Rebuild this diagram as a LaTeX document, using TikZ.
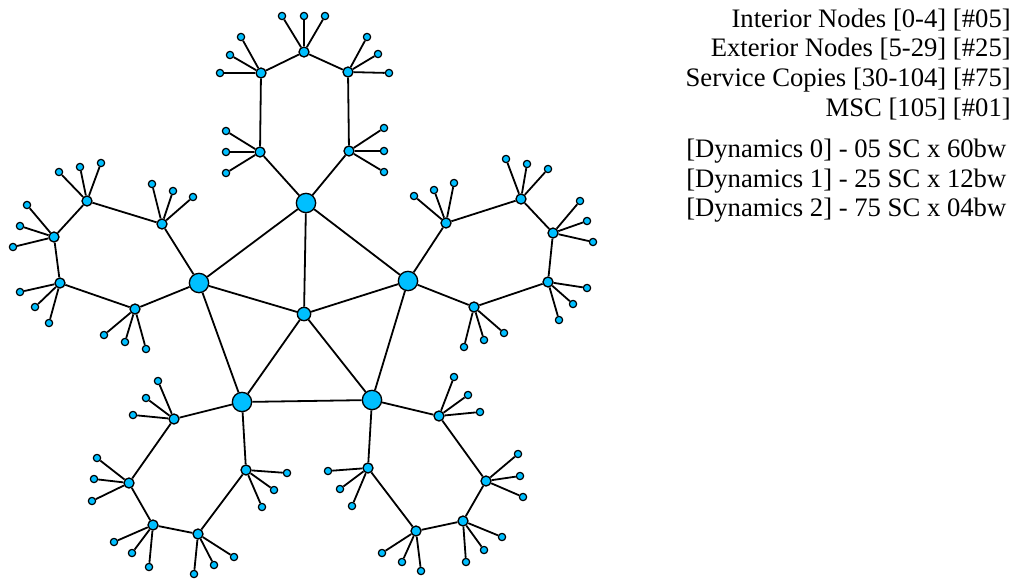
\documentclass[tikz,border=0pt]{standalone}
\usepackage{fontspec}
\setmainfont{Liberation Serif}
\usetikzlibrary{backgrounds}
\definecolor{nodeblue}{RGB}{0,191,255}
\tikzset{
  peer/.style={circle,draw=black,fill=nodeblue,line width=1pt,inner sep=0pt},
  intnode/.style={peer,minimum size=14.5pt},
  mscnode/.style={peer,minimum size=10pt},
  extnode/.style={peer,minimum size=7.5pt},
  svcnode/.style={peer,minimum size=5.5pt,line width=0.9pt},
  link/.style={line width=1.35pt},
  legend/.style={inner sep=0pt,font=\fontsize{20}{22.5}\selectfont}
}
\begin{document}
\begin{tikzpicture}[x=0.75pt,y=-0.75pt,line join=round,line cap=round]
\useasboundingbox (0,0) rectangle (1016,578);
% interior nodes and the MSC
\foreach \i/\x/\y in {0/306/203,1/408/281,2/372/400,3/242/402,4/199/283}
  \node[intnode] (int\i) at (\x,\y) {};
\node[mscnode] (msc) at (304,314) {};
% exterior nodes, five round each interior node
\foreach \i/\x/\y in {5/349/151,6/348/72,7/304/52,8/261/73,9/260/152,
    10/474/307,11/548/282,12/553/233,13/521/199,14/446/223,
    15/368/468,16/416/531,17/463/521,18/486/481,19/439/416,
    20/174/419,21/129/483,22/153/525,23/198/534,24/246/470,
    25/135/309,26/60/283,27/54/237,28/87/201,29/162/224}
  \node[extnode] (ext\i) at (\x,\y) {};
% service copies, three per exterior node
\foreach \j/\xa/\ya/\xb/\yb/\xc/\yc in {
    5/384/128/384/151/384/172, 6/367/37/378/54/389/73,
    7/282/16/304/16/325/16, 8/241/37/230/55/220/73,
    9/226/131/226/152/226/173, 10/504/333/484/340/464/347,
    11/587/288/573/304/559/320, 12/580/201/587/221/593/242,
    13/506/159/527/164/548/169, 14/414/196/434/190/454/183,
    15/328/471/340/489/352/506, 16/382/553/402/562/421/571,
    17/466/562/484/550/502/537, 18/523/497/520/476/518/454,
    19/480/412/468/395/454/377, 20/158/381/146/398/133/415,
    21/97/458/94/479/92/501, 22/114/542/132/553/149/567,
    23/194/574/214/565/234/557, 24/262/507/274/490/287/473,
    25/104/335/125/342/146/349, 26/20/292/35/307/49/323,
    27/27/205/20/226/13/247, 28/59/172/80/167/101/163,
    29/152/184/173/191/193/197}{
  \pgfmathtruncatemacro{\ia}{30+3*(\j-5)}
  \pgfmathtruncatemacro{\ib}{\ia+1}
  \pgfmathtruncatemacro{\ic}{\ia+2}
  \node[svcnode] (sc\ia) at (\xa,\ya) {};
  \node[svcnode] (sc\ib) at (\xb,\yb) {};
  \node[svcnode] (sc\ic) at (\xc,\yc) {};
}
% links
\begin{scope}[on background layer]
  \foreach \k in {0,...,4}{
    \pgfmathtruncatemacro{\nx}{mod(\k+1,5)}
    \pgfmathtruncatemacro{\ea}{5*\k+5}
    \pgfmathtruncatemacro{\eb}{5*\k+6}
    \pgfmathtruncatemacro{\ec}{5*\k+7}
    \pgfmathtruncatemacro{\ed}{5*\k+8}
    \pgfmathtruncatemacro{\ee}{5*\k+9}
    \draw[link] (msc) -- (int\k);
    \draw[link] (int\k) -- (int\nx);
    \draw[link] (int\k) -- (ext\ea) -- (ext\eb) -- (ext\ec) -- (ext\ed) -- (ext\ee) -- (int\k);
  }
  \foreach \j in {5,...,29}{
    \pgfmathtruncatemacro{\ia}{30+3*(\j-5)}
    \pgfmathtruncatemacro{\ib}{\ia+1}
    \pgfmathtruncatemacro{\ic}{\ia+2}
    \draw[link] (ext\j) -- (sc\ia);
    \draw[link] (ext\j) -- (sc\ib);
    \draw[link] (ext\j) -- (sc\ic);
  }
\end{scope}
% legend
\node[legend,anchor=base east] (lgint) at (1011,27) {Interior Nodes [0-4] [\#05]};
\node[legend,anchor=base east] (lgext) at (1011,56) {Exterior Nodes [5-29] [\#25]};
\node[legend,anchor=base east] (lgsvc) at (1011,86) {Service Copies [30-104] [\#75]};
\node[legend,anchor=base east] (lgmsc) at (1011,116) {MSC [105] [\#01]};
\node[legend,anchor=base west] (dyn0) at (686,157) {[Dynamics 0] - 05 SC x 60bw};
\node[legend,anchor=base west] (dyn1) at (686,187) {[Dynamics 1] - 25 SC x 12bw};
\node[legend,anchor=base west] (dyn2) at (686,216) {[Dynamics 2] - 75 SC x 04bw};
\end{tikzpicture}
\end{document}
